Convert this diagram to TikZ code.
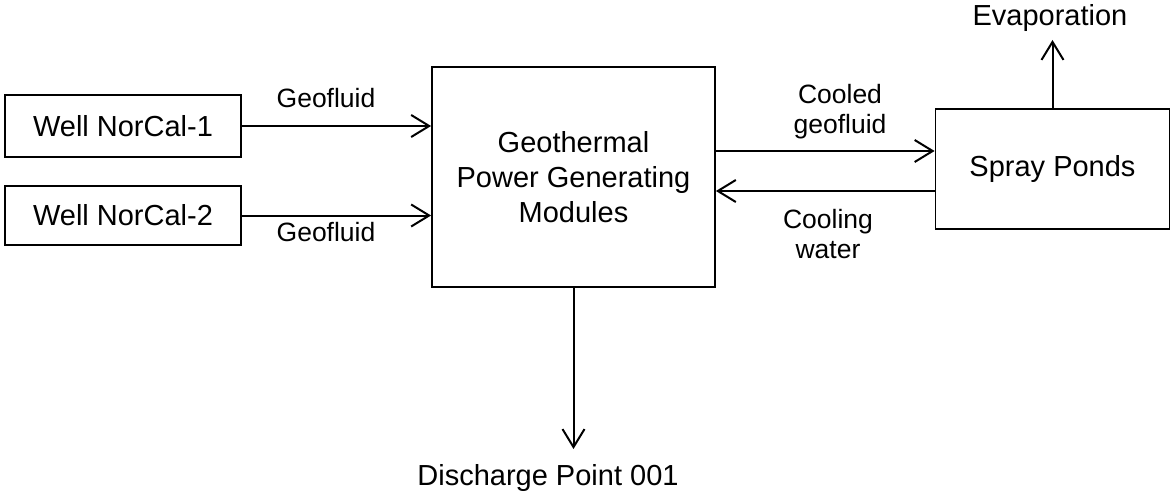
\documentclass[tikz,border=0pt]{standalone}
\usepackage{fontspec}
\setmainfont{Liberation Sans}
\usetikzlibrary{arrows.meta}
\begin{document}
\begin{tikzpicture}[x=1pt,y=-1pt,
  box/.style={draw,line width=1.8pt,rectangle,inner sep=0pt,align=center,font=\fontsize{29}{35}\selectfont},
  lbl/.style={inner sep=0pt,align=center,font=\fontsize{26.5}{30}\selectfont},
  arr/.style={line width=2pt,-{Straight Barb[length=18pt,width=22pt,line width=2pt]}}]
\useasboundingbox (0,0) rectangle (1171,495);
\node[box,minimum width=236pt,minimum height=62pt] (w1) at (123,126) {Well NorCal-1};
\node[box,minimum width=236pt,minimum height=59pt] (w2) at (123,215.5) {Well NorCal-2};
\node[box,minimum width=283pt,minimum height=220pt] (gen) at (573.5,177) {Geothermal\\Power Generating\\Modules};
\node[box,minimum width=234pt,minimum height=120pt] (spray) at (1052.5,169) {Spray Ponds};
\node[lbl] (g1) at (326,98) {Geofluid};
\node[lbl] (g2) at (326,232) {Geofluid};
\node[lbl] (cg) at (840,112) {Cooled\\geofluid};
\node[lbl] (cw) at (828,234) {Cooling\\water};
\node[box,draw=none] (evap) at (1050,18) {Evaporation};
\node[box,draw=none] (dis) at (548,478) {Discharge Point 001};
\coordinate (yc) at (0,151);
\coordinate (yw) at (0,191);
\coordinate (ye) at (0,40);
\coordinate (yd) at (0,449);
\draw[arr] (w1.east) -- (w1.east -| gen.west);
\draw[arr] (w2.east) -- (w2.east -| gen.west);
\draw[arr] (gen.east |- yc) -- (spray.west |- yc);
\draw[arr] (spray.west |- yw) -- (gen.east |- yw);
\draw[arr] (spray.north) -- (spray.north |- ye);
\draw[arr] (gen.south) -- (gen.south |- yd);
\end{tikzpicture}
\end{document}
